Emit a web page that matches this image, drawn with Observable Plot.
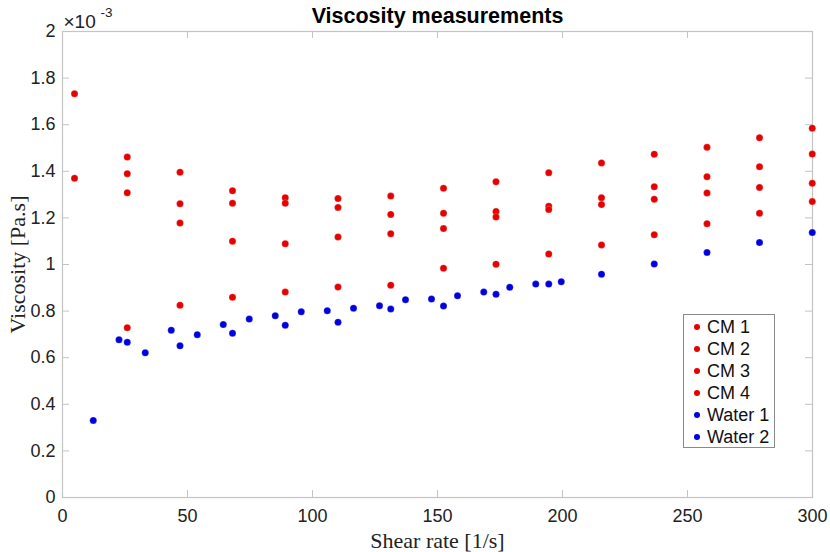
<!DOCTYPE html>
<html>
<head>
<meta charset="utf-8">
<script src="https://cdn.jsdelivr.net/npm/d3@7"></script>
<script src="https://cdn.jsdelivr.net/npm/@observablehq/plot@0.6"></script>
<style>
  html, body { margin: 0; padding: 0; background: #fff; }
  #wrap { position: relative; width: 830px; height: 552px; }
  #legend {
    position: absolute; left: 683px; top: 314px; width: 92px; height: 134px;
    border: 1px solid #8a8a8a; background: #fff; box-sizing: border-box;
    font-family: "Liberation Sans", Arial, sans-serif; font-size: 18px; color: #111;
    padding-top: 1px;
  }
  #legend .row { display: flex; align-items: center; height: 22px; }
  #legend .dot { width: 6px; height: 6px; border-radius: 50%; margin-left: 10px; margin-right: 7px; }
</style>
</head>
<body>
<div id="wrap"></div>
<script>
// ---- data ----
const cmShear = [4.8, 25.9, 47.0, 68.0, 89.1, 110.2, 131.3, 152.4, 173.4, 194.5, 215.6, 236.7, 257.8, 278.8, 299.9];
const cm1 = [1.733, 1.461, 1.396, 1.317, 1.287, 1.283, 1.294, 1.327, 1.355, 1.394, 1.436, 1.473, 1.503, 1.544, 1.585];
const cm2 = [1.370, 1.390, 1.261, 1.263, 1.263, 1.245, 1.215, 1.220, 1.227, 1.250, 1.287, 1.334, 1.377, 1.420, 1.474];
const cm3 = [null, 1.308, 1.178, 1.100, 1.089, 1.118, 1.132, 1.154, 1.204, 1.236, 1.257, 1.280, 1.307, 1.331, 1.349];
const cm4 = [null, 0.729, 0.825, 0.859, 0.882, 0.903, 0.911, 0.984, 1.001, 1.045, 1.084, 1.128, 1.175, 1.220, 1.270];
const water1Shear = [25.9, 47.0, 68.0, 89.1, 110.2, 131.3, 152.4, 173.4, 194.5, 215.6, 236.7, 257.8, 278.8, 299.9];
const water1 = [0.666, 0.651, 0.705, 0.739, 0.752, 0.809, 0.822, 0.872, 0.916, 0.958, 1.002, 1.051, 1.094, 1.137];
const water2Shear = [12.3, 22.6, 33.1, 43.5, 53.9, 64.3, 74.7, 85.1, 95.5, 105.9, 116.4, 126.8, 137.2, 147.6, 158.0, 168.5, 178.9, 189.3, 199.5];
const water2 = [0.331, 0.677, 0.621, 0.718, 0.699, 0.742, 0.766, 0.780, 0.797, 0.802, 0.812, 0.823, 0.849, 0.852, 0.866, 0.882, 0.902, 0.916, 0.926];
const seriesNames = ["CM 1", "CM 2", "CM 3", "CM 4", "Water 1", "Water 2"];
const seriesColors = ["#e60000", "#e60000", "#e60000", "#e60000", "#0000e0", "#0000e0"];
const xTicks = [0, 50, 100, 150, 200, 250, 300];
const yTicks = [0, 0.2, 0.4, 0.6, 0.8, 1, 1.2, 1.4, 1.6, 1.8, 2]; // ×10^-3
const title = "Viscosity measurements";
const xLabel = "Shear rate [1/s]";
const yLabel = "Viscosity [Pa.s]";

// ---- build rows ----
const rows = [];
const add = (xs, ys, name) => xs.forEach((x, i) => { if (ys[i] != null) rows.push({x, y: ys[i] * 1e-3, series: name}); });
add(cmShear, cm1, "CM 1");
add(cmShear, cm2, "CM 2");
add(cmShear, cm3, "CM 3");
add(cmShear, cm4, "CM 4");
add(water1Shear, water1, "Water 1");
add(water2Shear, water2, "Water 2");
const yTickVals = yTicks.map(v => v * 1e-3);

const W = 830, H = 552;
const mL = 62, mR = 18, mT = 31, mB = 55;
const plotW = W - mL - mR, plotH = H - mT - mB;
const tick = 7;
const axisCol = "#c4c4c4";
const sans = "'Liberation Sans', Arial, Helvetica, sans-serif";
const serif = "'Liberation Serif', 'Times New Roman', serif";

const chart = Plot.plot({
  width: W, height: H,
  marginLeft: mL, marginRight: mR, marginTop: mT, marginBottom: mB,
  style: {background: "#fff", overflow: "visible"},
  x: {domain: [0, 300]},
  y: {domain: [0, 0.002]},
  color: {domain: seriesNames, range: seriesColors},
  marks: [
    Plot.frame({stroke: axisCol, strokeWidth: 1.2}),
    // inward ticks
    Plot.tickX(xTicks, {x: d => d, insetTop: plotH - tick, stroke: axisCol}),
    Plot.tickX(xTicks, {x: d => d, insetBottom: plotH - tick, stroke: axisCol}),
    Plot.tickY(yTickVals, {y: d => d, insetRight: plotW - tick, stroke: axisCol}),
    Plot.tickY(yTickVals, {y: d => d, insetLeft: plotW - tick, stroke: axisCol}),
    Plot.axisX({ticks: xTicks, tickSize: 0, tickPadding: 12, label: null, fontSize: 18, fontFamily: sans, fill: "#222"}),
    Plot.axisY({ticks: yTickVals, tickSize: 0, tickPadding: 7, label: null, fontSize: 18, fontFamily: sans, fill: "#222",
      tickFormat: d => String(+(d * 1000).toFixed(1))}),
    Plot.dot(rows, {x: "x", y: "y", fill: "series", r: 3.5, stroke: "#ffffff", strokeOpacity: 0.35, strokeWidth: 0.6}),
    Plot.text([title], {text: d => d, frameAnchor: "top", lineAnchor: "middle", textAnchor: "middle", dy: -15, fontSize: 21.5, fontWeight: "bold", fontFamily: sans, fill: "#000"}),
    Plot.text([xLabel], {text: d => d, frameAnchor: "bottom", lineAnchor: "middle", textAnchor: "middle", dy: 43, fontSize: 22, fontFamily: serif, fill: "#222"}),
    Plot.text([yLabel], {text: d => d, frameAnchor: "left", lineAnchor: "middle", textAnchor: "middle", dx: -45, rotate: -90, fontSize: 22, fontFamily: serif, fill: "#222"}),
    Plot.text(["×10"], {text: d => d, frameAnchor: "top-left", lineAnchor: "middle", textAnchor: "start", dx: 1, dy: -10, fontSize: 19, fontFamily: sans, fill: "#222"}),
    Plot.text(["-3"], {text: d => d, frameAnchor: "top-left", lineAnchor: "middle", textAnchor: "start", dx: 38, dy: -19, fontSize: 13.5, fontFamily: sans, fill: "#222"})
  ]
});
const wrap = document.getElementById("wrap");
wrap.appendChild(chart);

// legend
const legend = document.createElement("div");
legend.id = "legend";
seriesNames.forEach((n, i) => {
  const row = document.createElement("div");
  row.className = "row";
  const dot = document.createElement("span");
  dot.className = "dot";
  dot.style.background = seriesColors[i];
  const label = document.createElement("span");
  label.textContent = n;
  row.appendChild(dot); row.appendChild(label);
  legend.appendChild(row);
});
wrap.appendChild(legend);
</script>
</body>
</html>
